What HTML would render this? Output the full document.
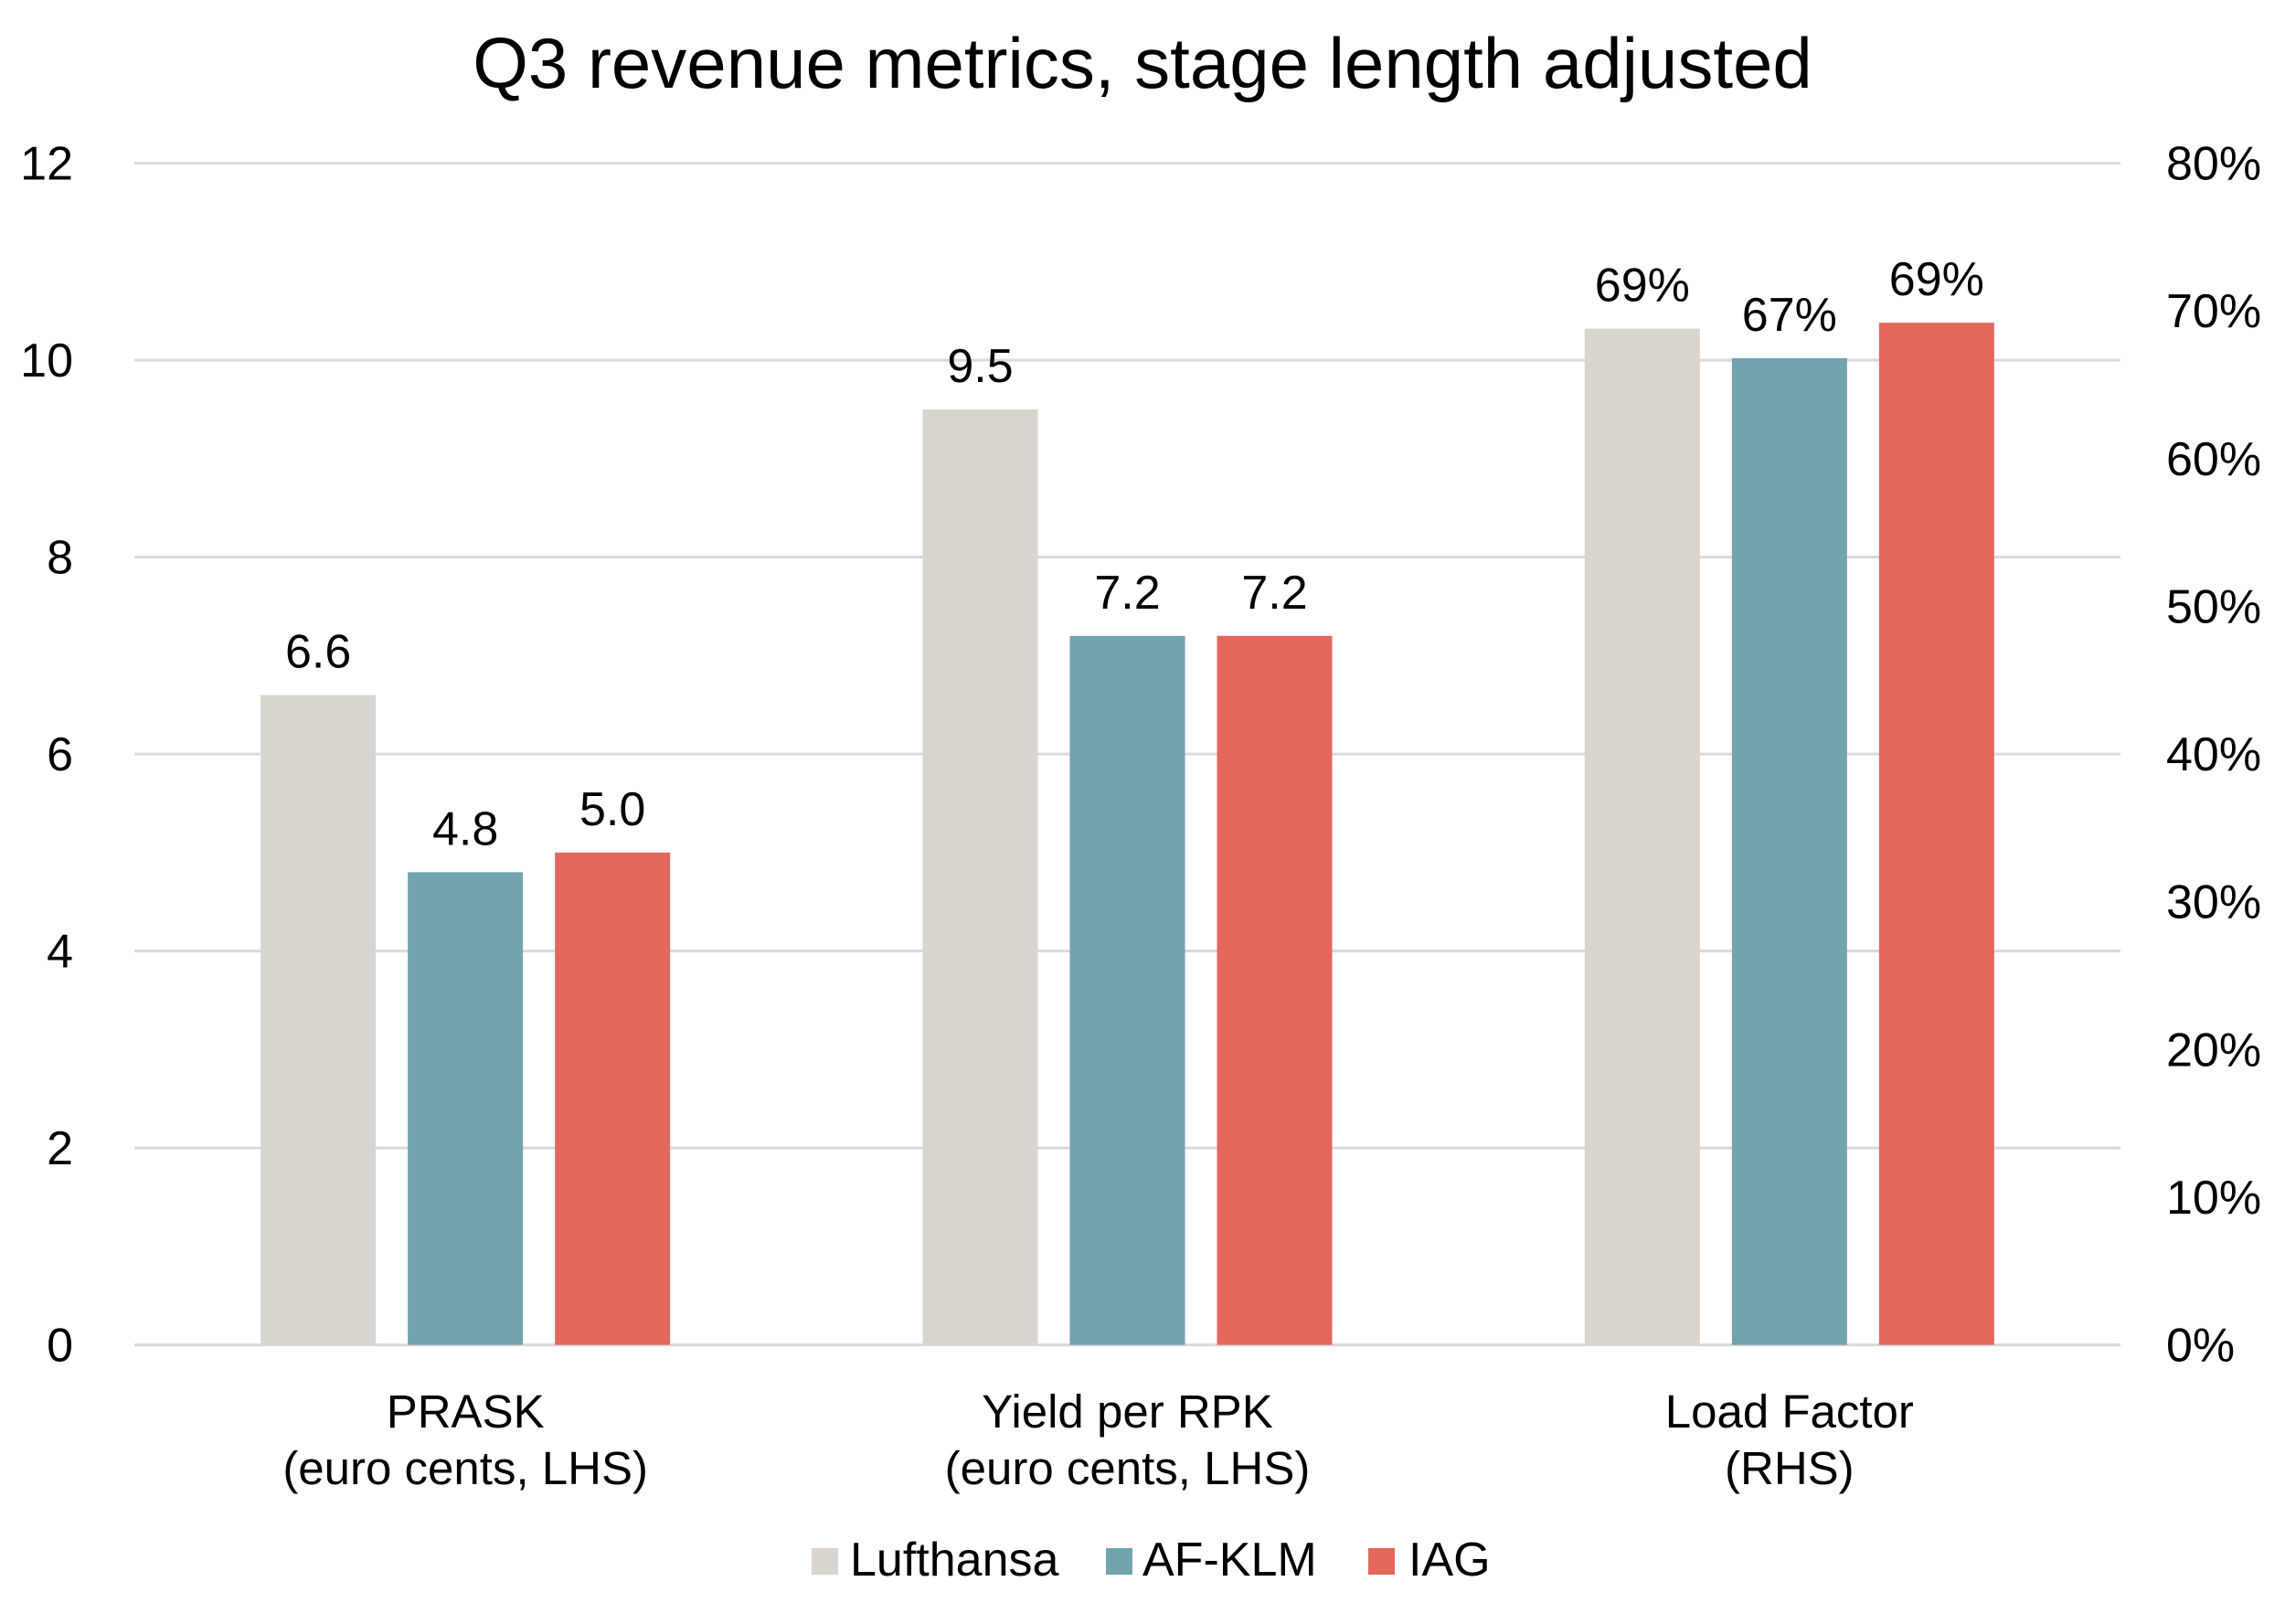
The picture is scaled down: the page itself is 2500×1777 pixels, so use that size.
<!DOCTYPE html>
<html><head><meta charset="utf-8"><style>
html,body{margin:0;padding:0;background:#fff;}
svg{display:block;font-family:"Liberation Sans",sans-serif;}
</style></head><body>
<svg id="chart" width="2500" height="1777" viewBox="0 0 2500 1777">
<text x="1250" y="96" font-size="78" text-anchor="middle" fill="#000">Q3 revenue metrics, stage length adjusted</text>
<g id="grid"></g><g id="bars"></g><g id="labels"></g><g id="axes"></g>
<g>
<rect x="888" y="1694" width="29" height="29" fill="#d9d4ce"/>
<text x="930" y="1724" font-size="52">Lufthansa</text>
<rect x="1210" y="1694" width="29" height="29" fill="#72a3ae"/>
<text x="1250" y="1724" font-size="52">AF-KLM</text>
<rect x="1497" y="1694" width="29" height="29" fill="#e3675d"/>
<text x="1541" y="1724" font-size="52">IAG</text>
</g>
</svg>
<script>
const categoryLine1 = ["PRASK","Yield per RPK","Load Factor"];
const categoryLine2 = ["(euro cents, LHS)","(euro cents, LHS)","(RHS)"];
const seriesNames = ["lufthansa","af-klm","iag"];
const seriesColors = ["#d9d4ce","#72a3ae","#e3675d"];
const lufthansa = [6.6, 9.5, 68.8];
const afklm = [4.8, 7.2, 66.8];
const iag = [5.0, 7.2, 69.2];
const leftTicks = [0,2,4,6,8,10,12];
const rightTicks = [0,10,20,30,40,50,60,70,80];
const useRight = [false,false,true];

const NS="http://www.w3.org/2000/svg";
const X0=147,X1=2320,Y0=1471.6,Y1=178.6;
const yL=v=>Y0-(v/12)*(Y0-Y1);
const yR=v=>Y0-(v/80)*(Y0-Y1);
const catW=(X1-X0)/categoryLine1.length;
const catC=i=>X0+catW*(i+0.5);
const barW=126,step=161;
function mk(tag,attrs,parent,txt){const e=document.createElementNS(NS,tag);for(const k in attrs)e.setAttribute(k,attrs[k]);if(txt!==undefined)e.textContent=txt;parent.appendChild(e);return e;}
const grid=document.getElementById('grid'),bars=document.getElementById('bars'),labels=document.getElementById('labels'),axes=document.getElementById('axes');
leftTicks.forEach(t=>{
  const l=mk('line',{x1:X0,x2:X1,y1:yL(t),y2:yL(t),stroke:'#d9d9d9','stroke-width':3},grid);
  
  
  const tx=mk('text',{x:80,y:yL(t)+18,'font-size':52,'text-anchor':'end'},axes,String(t));
  
  
});
rightTicks.forEach(t=>{
  const tx=mk('text',{x:2370,y:yR(t)+18,'font-size':52},axes,t+'%');
  
  
});
const series=[lufthansa,afklm,iag];
categoryLine1.forEach((c,i)=>{
  series.forEach((s,j)=>{
    const v=s[i];const y=useRight[i]?yR(v):yL(v);
    const cx=catC(i)+(j-1)*step;
    const r=mk('rect',{x:cx-barW/2,y:y,width:barW,height:Y0-y,fill:seriesColors[j]},bars);
    
    
    const lab=useRight[i]?Math.round(v)+'%':v.toFixed(1);
    const t=mk('text',{x:cx,y:y-30,'font-size':52,'text-anchor':'middle'},labels,lab);
    
    
  });
  const a=mk('text',{x:catC(i),y:1562,'font-size':51,'text-anchor':'middle'},axes,c);
  
  
  const b=mk('text',{x:catC(i),y:1624,'font-size':51,'text-anchor':'middle'},axes,categoryLine2[i]);
  
  
});
</script>
</body></html>
